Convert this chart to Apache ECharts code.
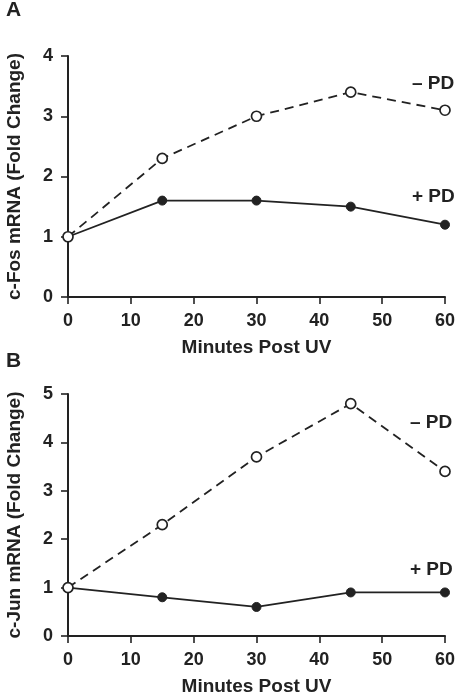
<!DOCTYPE html>
<html><head><meta charset="utf-8">
<script src="https://cdn.jsdelivr.net/npm/echarts@6/dist/echarts.min.js"></script>
<style>html,body{margin:0;padding:0;background:#fff}#c{width:456px;height:696px}</style>
</head><body><div id="c"></div>
<script>
const minutes = [0, 15, 30, 45, 60];
const fosMinusPD = [1.0, 2.3, 3.0, 3.4, 3.1];
const fosPlusPD  = [1.0, 1.6, 1.6, 1.5, 1.2];
const junMinusPD = [1.0, 2.3, 3.7, 4.8, 3.4];
const junPlusPD  = [1.0, 0.8, 0.6, 0.9, 0.9];
const xTitle = 'Minutes Post UV';
const yTitles = ['c-Fos mRNA (Fold Change)', 'c-Jun mRNA (Fold Change)'];
const panelLetters = ['A', 'B'];
const seriesNames = ['\u2013 PD', '+ PD'];

const ink = '#222';
const font = 'Liberation Sans, Arial, Helvetica, sans-serif';
const pairs = (ys) => minutes.map((m, i) => [m, ys[i]]);

const chart = echarts.init(document.getElementById('c'), null, {renderer: 'canvas'});

function xAxis(idx) {
  return {
    gridIndex: idx, type: 'value', min: 0, max: 60, interval: 10,
    name: xTitle, nameLocation: 'middle', nameGap: 41,
    nameTextStyle: {color: ink, fontSize: 19, fontWeight: 'bold', fontFamily: font},
    axisLine: {show: true, onZero: false, lineStyle: {color: ink, width: 2}},
    axisTick: {show: true, inside: false, length: 7, lineStyle: {color: ink, width: 1.6}},
    axisLabel: {color: ink, fontSize: 18, fontWeight: 'bold', fontFamily: font, margin: 15},
    splitLine: {show: false}
  };
}
function yAxis(idx, max) {
  return {
    gridIndex: idx, type: 'value', min: 0, max: max, interval: 1,
    name: yTitles[idx], nameLocation: 'middle', nameGap: 44,
    nameTextStyle: {color: ink, fontSize: 19, fontWeight: 'bold', fontFamily: font},
    axisLine: {show: true, onZero: false, lineStyle: {color: ink, width: 2}},
    axisTick: {show: true, inside: false, length: 7, lineStyle: {color: ink, width: 1.6}},
    axisLabel: {color: ink, fontSize: 18, fontWeight: 'bold', fontFamily: font, margin: 15},
    splitLine: {show: false}
  };
}
function plus(idx, data) {
  return {
    name: seriesNames[1], type: 'line', xAxisIndex: idx, yAxisIndex: idx, data: pairs(data),
    symbol: 'circle', symbolSize: 9, z: 2,
    lineStyle: {color: ink, width: 1.8, type: 'solid'},
    itemStyle: {color: ink, borderColor: ink, borderWidth: 1},
    animation: false
  };
}
function minus(idx, data) {
  return {
    name: seriesNames[0], type: 'line', xAxisIndex: idx, yAxisIndex: idx, data: pairs(data),
    symbol: 'circle', symbolSize: 10, z: 3,
    lineStyle: {color: ink, width: 1.8, type: [9, 6]},
    itemStyle: {color: '#fff', borderColor: ink, borderWidth: 1.7},
    animation: false
  };
}
function txt(text, left, top, size) {
  return {type: 'text', left: left, top: top,
    style: {text: text, fill: ink, font: 'bold ' + size + 'px ' + font}};
}

chart.setOption({
  backgroundColor: '#fff',
  animation: false,
  grid: [
    {left: 68, right: 11, top: 56, height: 241, containLabel: false, outerBoundsMode: 'none'},
    {left: 68, right: 11, top: 394, height: 242, containLabel: false, outerBoundsMode: 'none'}
  ],
  xAxis: [xAxis(0), xAxis(1)],
  yAxis: [yAxis(0, 4), yAxis(1, 5)],
  series: [plus(0, fosPlusPD), minus(0, fosMinusPD), plus(1, junPlusPD), minus(1, junMinusPD)],
  graphic: [
    txt(panelLetters[0], 6, 0, 21),
    txt(panelLetters[1], 6, 351, 21),
    txt(seriesNames[0], 412, 74, 19),
    txt(seriesNames[1], 412, 187, 19),
    txt(seriesNames[0], 410, 413, 19),
    txt(seriesNames[1], 410, 560, 19)
  ]
});
</script></body></html>
